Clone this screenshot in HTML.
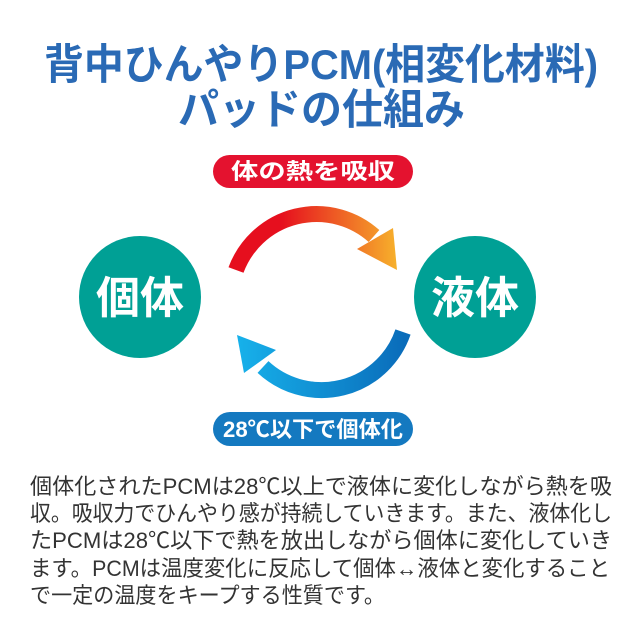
<!DOCTYPE html>
<html><head><meta charset="utf-8"><style>
html,body{margin:0;padding:0;background:#fff;}
svg{display:block}
text{font-family:"Liberation Sans","Noto Sans CJK JP",sans-serif;}
</style></head><body>
<svg width="640" height="640" viewBox="0 0 640 640" xmlns="http://www.w3.org/2000/svg">
<defs>
<linearGradient id="gr" x1="230" y1="0" x2="400" y2="0" gradientUnits="userSpaceOnUse">
<stop offset="0.3" stop-color="#e60f1e"/><stop offset="1" stop-color="#f7b52c"/></linearGradient>
<linearGradient id="gb" x1="235" y1="0" x2="405" y2="0" gradientUnits="userSpaceOnUse">
<stop offset="0" stop-color="#17b2eb"/><stop offset="1" stop-color="#0a6cba"/></linearGradient>
</defs>
<g font-weight="bold" fill="#2a6ab5">
<text x="44" y="79" font-size="42" textLength="554" lengthAdjust="spacingAndGlyphs">背中ひんやりPCM(相変化材料)</text>
<text x="178" y="124" font-size="42" textLength="287" lengthAdjust="spacingAndGlyphs">パッドの仕組み</text>
</g>
<rect x="213" y="155" width="200" height="33" rx="16.5" fill="#e4122f"/>
<text x="313" y="179" font-size="22" font-weight="bold" fill="#fff" text-anchor="middle" textLength="164" lengthAdjust="spacingAndGlyphs">体の熱を吸収</text>
<rect x="213" y="412" width="200" height="34" rx="17" fill="#1479c0"/>
<text x="313" y="437" font-size="22" font-weight="bold" fill="#fff" text-anchor="middle" textLength="180" lengthAdjust="spacingAndGlyphs">28℃以下で個体化</text>
<circle cx="140" cy="297" r="61" fill="#00a095"/>
<circle cx="475" cy="297" r="61" fill="#00a095"/>
<text x="140" y="313" font-size="44" font-weight="bold" fill="#fff" text-anchor="middle">個体</text>
<text x="475" y="313" font-size="44" font-weight="bold" fill="#fff" text-anchor="middle">液体</text>
<!-- top arc -->
<path d="M236,270 A86,86 0 0 1 374,236" fill="none" stroke="url(#gr)" stroke-width="16"/>
<polygon points="393,228 397,270 357,249" fill="url(#gr)"/>
<!-- bottom arc -->
<path d="M403,332 A86,86 0 0 1 263,367" fill="none" stroke="url(#gb)" stroke-width="16"/>
<polygon points="237,335 244,373 276,350" fill="url(#gb)"/>
<g font-size="22" fill="#333">
<text x="30" y="494" textLength="582" lengthAdjust="spacingAndGlyphs">個体化されたPCMは28℃以上で液体に変化しながら熱を吸</text>
<text x="30" y="521" textLength="582" lengthAdjust="spacingAndGlyphs">収。吸収力でひんやり感が持続していきます。また、液体化し</text>
<text x="30" y="548" textLength="582" lengthAdjust="spacingAndGlyphs">たPCMは28℃以下で熱を放出しながら個体に変化していき</text>
<text x="30" y="576" textLength="580" lengthAdjust="spacingAndGlyphs">ます。PCMは温度変化に反応して個体↔液体と変化すること</text>
<text x="30" y="603" textLength="355" lengthAdjust="spacingAndGlyphs">で一定の温度をキープする性質です。</text>
</g>
</svg>
</body></html>
